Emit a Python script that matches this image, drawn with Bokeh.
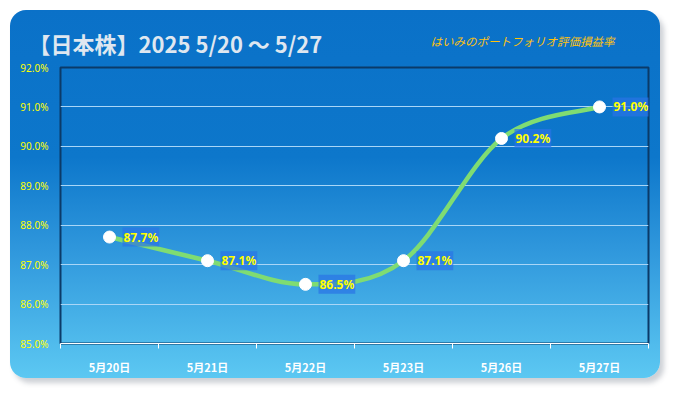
from bokeh.plotting import figure
from bokeh.models import Range1d, FixedTicker, PrintfTickFormatter, Label, ColumnDataSource
from bokeh.core.properties import value
from bokeh.embed import file_html
from bokeh.resources import INLINE

# ---- data ----
dates = ["5月20日", "5月21日", "5月22日", "5月23日", "5月26日", "5月27日"]
rates = [87.7, 87.1, 86.5, 87.1, 90.2, 91.0]
y_ticks = [85, 86, 87, 88, 89, 90, 91, 92]
title_text = "【日本株】2025 5/20 ～ 5/27"
subtitle_text = "はいみのポートフォリオ評価損益率"

xs = [i + 0.5 for i in range(len(dates))]

W, H = 650, 368
p = figure(width=W, height=H, output_backend="svg", toolbar_location=None,
           x_range=Range1d(0, len(dates)), y_range=Range1d(y_ticks[0], y_ticks[-1]),
           min_border_left=50, min_border_right=12, min_border_top=57, min_border_bottom=35)
p.styles = {
    "background": "linear-gradient(to bottom, #0a71c8 0%, #0d77cb 40%, #2f97dc 65%, #5cc8f2 100%)",
    "border-radius": "16px",
    "box-shadow": "4px 5px 5px rgba(60,70,90,0.25)",
    "margin-left": "10px",
    "margin-top": "10px",
}
p.border_fill_alpha = 0
p.background_fill_alpha = 0
p.outline_line_color = "#0b3a68"
p.outline_line_width = 2

# axes
p.xaxis.ticker = FixedTicker(ticks=xs, minor_ticks=list(range(len(dates) + 1)))
p.xaxis.major_label_overrides = {x: d for x, d in zip(xs, dates)}
p.xaxis.major_tick_line_color = None
p.xaxis.major_tick_out = 0
p.xaxis.minor_tick_line_color = "white"
p.xaxis.minor_tick_out = 5
p.xaxis.minor_tick_in = 0
p.xaxis.axis_line_color = "white"
p.xaxis.axis_line_width = 1
p.xaxis.major_label_text_color = "white"
p.xaxis.major_label_text_font = "Noto Sans CJK JP"
p.xaxis.major_label_text_font_style = "bold"
p.xaxis.major_label_text_font_size = "11px"
p.xaxis.major_label_standoff = 10

p.yaxis.ticker = FixedTicker(ticks=y_ticks)
p.yaxis.formatter = PrintfTickFormatter(format="%.1f%%")
p.yaxis.axis_line_color = None
p.yaxis.major_tick_line_color = None
p.yaxis.minor_tick_line_color = None
p.yaxis.major_tick_out = 0
p.yaxis.major_label_text_color = "#ffff00"
p.yaxis.major_label_text_font = "Noto Sans"
p.yaxis.major_label_text_font_size = "10px"
p.yaxis.major_label_standoff = 12

p.xgrid.grid_line_color = None
p.ygrid.ticker = FixedTicker(ticks=y_ticks)
p.ygrid.grid_line_color = "#a9d6f7"
p.ygrid.grid_line_width = 1

# smooth curve (Catmull-Rom -> cubic bezier, as Excel smoothing)
n = len(rates)
x0, y0, x1, y1, cx0, cy0, cx1, cy1 = [], [], [], [], [], [], [], []
for i in range(n - 1):
    pxm, pym = (xs[i - 1], rates[i - 1]) if i > 0 else (xs[i], rates[i])
    px2, py2 = (xs[i + 2], rates[i + 2]) if i + 2 < n else (xs[i + 1], rates[i + 1])
    x0.append(xs[i]); y0.append(rates[i])
    x1.append(xs[i + 1]); y1.append(rates[i + 1])
    cx0.append(xs[i] + (xs[i + 1] - pxm) / 6); cy0.append(rates[i] + (rates[i + 1] - pym) / 6)
    cx1.append(xs[i + 1] - (px2 - xs[i]) / 6); cy1.append(rates[i + 1] - (py2 - rates[i]) / 6)
p.bezier(x0=x0, y0=y0, x1=x1, y1=y1, cx0=cx0, cy0=cy0, cx1=cx1, cy1=cy1,
         line_color="#7fdc72", line_width=4.5, line_cap="round")

src = ColumnDataSource(dict(x=xs, y=rates, lab=[f"{r:.1f}%" for r in rates]))
p.scatter("x", "y", source=src, size=12, fill_color="white", line_color="white")
p.text("x", "y", text="lab", source=src, x_offset=13, text_align="left", text_baseline="middle",
       text_color="#ffff00", text_font=value("Noto Sans"), text_font_style="bold",
       text_font_size="12px", background_fill_color="#2a74e6", background_fill_alpha=0.7,
       padding=1)

# title and subtitle, placed in the top panel in canvas units
p.add_layout(Label(x=18, y=32, x_units="canvas", y_units="canvas", text=title_text,
                   text_font="Noto Sans CJK JP", text_font_style="bold", text_font_size="22px",
                   text_color="#dfe7f0", text_baseline="middle"), "above")
p.add_layout(Label(x=420, y=30, x_units="canvas", y_units="canvas", text=subtitle_text,
                   text_font="Noto Sans CJK JP", text_font_style="italic", text_font_size="11.5px",
                   text_color="#ffc20e", text_baseline="middle"), "above")

open("out.html", "w").write(file_html(p, INLINE))
